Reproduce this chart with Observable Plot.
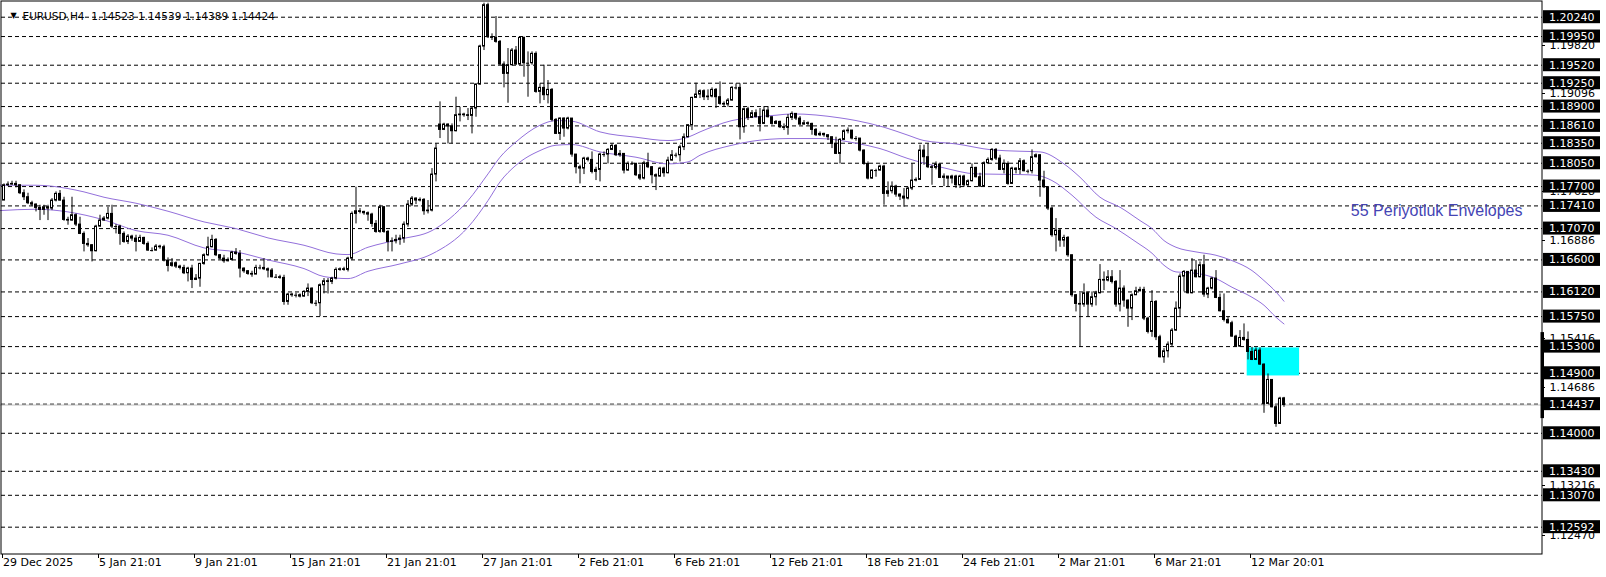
<!DOCTYPE html>
<html><head><meta charset="utf-8">
<script src="https://cdn.jsdelivr.net/npm/d3@7"></script>
<script src="https://cdn.jsdelivr.net/npm/@observablehq/plot@0.6"></script>
<style>html,body{margin:0;padding:0;background:#fff;overflow:hidden}#chart svg{display:block}</style>
</head><body><div id="chart"></div>
<script>
// ---- H4 candles (bar index 0 = 29 Dec 2025) ----
const closes = [
1.1772,1.1773,1.1774,1.1772,1.1760,1.1754,1.1745,1.1743,1.1738,1.1735,
1.1739,1.1737,1.1749,1.1759,1.1749,1.1720,1.1719,1.1727,1.1713,1.1699,
1.1684,1.1682,1.1673,1.1710,1.1719,1.1722,1.1729,1.1710,1.1710,1.1699,
1.1687,1.1695,1.1692,1.1687,1.1693,1.1684,1.1674,1.1674,1.1680,1.1679,
1.1659,1.1651,1.1655,1.1650,1.1648,1.1640,1.1647,1.1630,1.1632,1.1654,
1.1667,1.1679,1.1690,1.1667,1.1662,1.1658,1.1660,1.1671,1.1669,1.1647,
1.1643,1.1639,1.1638,1.1648,1.1648,1.1646,1.1644,1.1634,1.1634,1.1633,
1.1597,1.1608,1.1607,1.1607,1.1605,1.1612,1.1617,1.1595,1.1595,1.1622,
1.1628,1.1627,1.1632,1.1645,1.1646,1.1645,1.1662,1.1729,1.1733,1.1732,
1.1730,1.1728,1.1714,1.1702,1.1739,1.1702,1.1687,1.1688,1.1690,1.1692,
1.1713,1.1743,1.1752,1.1749,1.1750,1.1733,1.1734,1.1788,1.1827,1.1855,
1.1863,1.1860,1.1853,1.1877,1.1878,1.1877,1.1876,1.1887,1.1923,1.1980,
1.2042,1.1994,1.1993,1.1987,1.1953,1.1939,1.1952,1.1974,1.1953,1.1993,
1.1955,1.1955,1.1969,1.1912,1.1918,1.1907,1.1915,1.1870,1.1849,1.1872,
1.1857,1.1872,1.1818,1.1799,1.1797,1.1812,1.1810,1.1792,1.1795,1.1818,
1.1818,1.1825,1.1831,1.1817,1.1819,1.1794,1.1804,1.1804,1.1787,1.1782,
1.1805,1.1799,1.1787,1.1785,1.1797,1.1790,1.1809,1.1817,1.1817,1.1829,
1.1844,1.1862,1.1903,1.1908,1.1913,1.1904,1.1905,1.1915,1.1904,1.1894,
1.1893,1.1899,1.1918,1.1918,1.1859,1.1886,1.1873,1.1880,1.1874,1.1864,
1.1884,1.1874,1.1864,1.1867,1.1859,1.1858,1.1873,1.1879,1.1872,1.1863,
1.1865,1.1864,1.1855,1.1847,1.1849,1.1847,1.1844,1.1834,1.1819,1.1840,
1.1853,1.1854,1.1842,1.1842,1.1824,1.1804,1.1782,1.1794,1.1794,1.1800,
1.1759,1.1763,1.1770,1.1758,1.1755,1.1752,1.1767,1.1779,1.1780,1.1824,
1.1814,1.1799,1.1798,1.1803,1.1783,1.1785,1.1782,1.1785,1.1772,1.1785,
1.1772,1.1778,1.1798,1.1784,1.1770,1.1805,1.1810,1.1825,1.1812,1.1795,
1.1804,1.1774,1.1797,1.1795,1.1808,1.1793,1.1793,1.1814,1.1817,1.1779,
1.1769,1.1737,1.1697,1.1704,1.1689,1.1693,1.1667,1.1607,1.1594,1.1593,
1.1610,1.1593,1.1604,1.1610,1.1630,1.1629,1.1634,1.1627,1.1593,1.1617,
1.1599,1.1587,1.1607,1.1613,1.1615,1.1572,1.1552,1.1597,1.1544,1.1514,
1.1523,1.1533,1.1554,1.1587,1.1635,1.1642,1.1610,1.1644,1.1634,1.1652,
1.1608,1.1617,1.1632,1.1603,1.1583,1.1570,1.1565,1.1545,1.1530,1.1543,
1.1540,1.1522,1.1510,1.1524,1.1503,1.1444,1.1480,1.1439,1.1414,1.1452,
1.14424];
const highs = [
1.1774,1.1777,1.1778,1.1778,1.1770,1.1765,1.1760,1.1748,1.1744,1.1742,
1.1742,1.1742,1.1752,1.1762,1.1764,1.1754,1.1724,1.1754,1.1729,1.1724,
1.1702,1.1692,1.1683,1.1712,1.1727,1.1725,1.1739,1.1742,1.1713,1.1712,
1.1702,1.1698,1.1697,1.1697,1.1697,1.1694,1.1687,1.1678,1.1683,1.1682,
1.1682,1.1663,1.1662,1.1657,1.1652,1.1652,1.1649,1.1652,1.1638,1.1655,
1.1669,1.1694,1.1697,1.1692,1.1668,1.1667,1.1663,1.1673,1.1677,1.1674,
1.1648,1.1644,1.1643,1.1652,1.1652,1.1662,1.1648,1.1647,1.1638,1.1637,
1.1637,1.1610,1.1610,1.1610,1.1609,1.1614,1.1624,1.1618,1.1599,1.1624,
1.1632,1.1632,1.1634,1.1648,1.1648,1.1649,1.1664,1.1732,1.1769,1.1737,
1.1733,1.1732,1.1730,1.1719,1.1742,1.1740,1.1704,1.1693,1.1697,1.1697,
1.1717,1.1749,1.1755,1.1753,1.1753,1.1752,1.1749,1.1797,1.1834,1.1897,
1.1865,1.1864,1.1864,1.1904,1.1889,1.1880,1.1887,1.1889,1.1924,1.1982,
1.2045,1.2045,1.1999,1.2025,1.1989,1.1957,1.1977,1.1977,1.1980,1.1995,
1.1994,1.1972,1.1972,1.1972,1.1924,1.1952,1.1929,1.1917,1.1872,1.1873,
1.1873,1.1874,1.1867,1.1818,1.1802,1.1814,1.1814,1.1822,1.1799,1.1820,
1.1822,1.1827,1.1834,1.1833,1.1824,1.1819,1.1807,1.1807,1.1805,1.1802,
1.1808,1.1820,1.1800,1.1789,1.1799,1.1799,1.1814,1.1824,1.1820,1.1832,
1.1849,1.1863,1.1904,1.1925,1.1915,1.1915,1.1915,1.1918,1.1917,1.1927,
1.1897,1.1902,1.1920,1.1924,1.1924,1.1888,1.1889,1.1884,1.1885,1.1887,
1.1890,1.1890,1.1874,1.1869,1.1868,1.1864,1.1878,1.1882,1.1879,1.1875,
1.1869,1.1867,1.1865,1.1857,1.1852,1.1850,1.1847,1.1844,1.1844,1.1842,
1.1855,1.1858,1.1847,1.1845,1.1838,1.1825,1.1807,1.1795,1.1796,1.1802,
1.1802,1.1777,1.1777,1.1772,1.1759,1.1767,1.1769,1.1804,1.1783,1.1832,
1.1832,1.1834,1.1802,1.1807,1.1802,1.1789,1.1785,1.1787,1.1787,1.1787,
1.1787,1.1780,1.1804,1.1799,1.1790,1.1807,1.1813,1.1827,1.1827,1.1817,
1.1810,1.1807,1.1799,1.1798,1.1812,1.1810,1.1795,1.1825,1.1819,1.1817,
1.1793,1.1764,1.1739,1.1722,1.1707,1.1697,1.1695,1.1667,1.1608,1.1610,
1.1624,1.1612,1.1612,1.1613,1.1653,1.1642,1.1644,1.1644,1.1629,1.1644,
1.1621,1.1600,1.1609,1.1619,1.1619,1.1619,1.1574,1.1614,1.1599,1.1547,
1.1527,1.1537,1.1557,1.1597,1.1639,1.1644,1.1642,1.1662,1.1659,1.1657,
1.1667,1.1619,1.1634,1.1644,1.1609,1.1609,1.1574,1.1568,1.1547,1.1554,
1.1564,1.1552,1.1529,1.1528,1.1528,1.1504,1.1489,1.1480,1.1442,1.1454,
1.14539];
const lows = [
1.1749,1.1770,1.1772,1.1768,1.1758,1.1749,1.1743,1.1740,1.1732,1.1719,
1.1727,1.1719,1.1734,1.1747,1.1748,1.1718,1.1712,1.1718,1.1710,1.1698,
1.1672,1.1679,1.1657,1.1672,1.1709,1.1718,1.1720,1.1707,1.1699,1.1682,
1.1685,1.1683,1.1688,1.1672,1.1688,1.1682,1.1673,1.1672,1.1673,1.1676,
1.1657,1.1642,1.1649,1.1647,1.1645,1.1638,1.1627,1.1617,1.1629,1.1619,
1.1652,1.1665,1.1678,1.1665,1.1660,1.1655,1.1657,1.1658,1.1667,1.1633,
1.1640,1.1637,1.1634,1.1638,1.1645,1.1644,1.1633,1.1633,1.1632,1.1631,
1.1592,1.1592,1.1604,1.1603,1.1603,1.1604,1.1605,1.1593,1.1590,1.1575,
1.1609,1.1609,1.1623,1.1630,1.1643,1.1643,1.1642,1.1659,1.1714,1.1729,
1.1727,1.1718,1.1709,1.1700,1.1700,1.1700,1.1672,1.1672,1.1684,1.1682,
1.1685,1.1709,1.1740,1.1743,1.1747,1.1727,1.1729,1.1732,1.1777,1.1842,
1.1854,1.1834,1.1834,1.1852,1.1867,1.1874,1.1869,1.1849,1.1874,1.1922,
1.1974,1.1992,1.1989,1.1985,1.1952,1.1918,1.1895,1.1951,1.1952,1.1952,
1.1934,1.1904,1.1952,1.1910,1.1894,1.1899,1.1894,1.1867,1.1848,1.1839,
1.1844,1.1855,1.1814,1.1789,1.1774,1.1788,1.1807,1.1789,1.1779,1.1777,
1.1814,1.1804,1.1824,1.1815,1.1814,1.1789,1.1793,1.1802,1.1785,1.1779,
1.1780,1.1797,1.1774,1.1764,1.1784,1.1784,1.1789,1.1808,1.1813,1.1807,
1.1824,1.1843,1.1854,1.1902,1.1902,1.1899,1.1899,1.1903,1.1887,1.1892,
1.1889,1.1889,1.1898,1.1915,1.1840,1.1850,1.1869,1.1872,1.1873,1.1852,
1.1863,1.1873,1.1862,1.1863,1.1857,1.1854,1.1847,1.1869,1.1869,1.1862,
1.1862,1.1861,1.1847,1.1845,1.1845,1.1844,1.1839,1.1827,1.1818,1.1804,
1.1839,1.1849,1.1840,1.1838,1.1822,1.1802,1.1780,1.1781,1.1784,1.1793,
1.1742,1.1754,1.1759,1.1754,1.1749,1.1739,1.1750,1.1764,1.1777,1.1792,
1.1802,1.1797,1.1772,1.1795,1.1782,1.1770,1.1769,1.1774,1.1767,1.1767,
1.1769,1.1770,1.1777,1.1783,1.1769,1.1769,1.1803,1.1808,1.1809,1.1794,
1.1789,1.1772,1.1773,1.1789,1.1788,1.1792,1.1789,1.1789,1.1813,1.1754,
1.1767,1.1734,1.1694,1.1672,1.1679,1.1679,1.1664,1.1604,1.1582,1.1529,
1.1589,1.1574,1.1589,1.1591,1.1609,1.1614,1.1627,1.1624,1.1589,1.1582,
1.1589,1.1559,1.1569,1.1607,1.1612,1.1569,1.1549,1.1544,1.1539,1.1513,
1.1505,1.1513,1.1530,1.1553,1.1574,1.1612,1.1609,1.1609,1.1633,1.1633,
1.1604,1.1602,1.1615,1.1602,1.1582,1.1567,1.1564,1.1544,1.1529,1.1529,
1.1538,1.1510,1.1509,1.1509,1.1502,1.1430,1.1444,1.1438,1.1409,1.1414,
1.14389];
const firstOpen = 1.1749;
const gapOpens = [[109, 1.1863], [320, 1.14523]];

// ---- 55-period Envelopes (sampled along the drawn lines) ----
const upperK = [-1,8,16,20,25,33,41,50,58,66,75,83,86,91,99,107,116,121,124,128,134,138,142,149,158,166,171,174,182,187,193,197,209,213,220,226,230,238,247,254,259,265,269,274,279,284,287,290,293,298,303,307,312,315,318,320];
const upperV = [1.1772,1.1772,1.1767,1.1762,1.1754,1.1745,1.1733,1.1717,1.1707,1.1693,1.1682,1.1669,1.1668,1.1679,1.1691,1.1704,1.1749,1.1789,1.1814,1.1837,1.1862,1.1869,1.1868,1.1852,1.1844,1.1839,1.1844,1.1852,1.1869,1.1874,1.1877,1.1879,1.1873,1.1869,1.1859,1.1847,1.1839,1.1834,1.1825,1.1823,1.1822,1.1804,1.1784,1.1754,1.1739,1.1719,1.1707,1.1689,1.1679,1.1672,1.1667,1.1659,1.1644,1.1629,1.1612,1.1598];
const lowerK = [-1,8,16,25,33,41,50,58,66,75,80,86,91,99,107,116,121,124,128,134,138,142,149,158,166,171,174,182,187,196,204,213,219,226,235,243,254,258,262,267,273,278,283,287,290,293,298,303,307,312,315,318,320];
const lowerV = [1.1734,1.1736,1.1732,1.1720,1.1704,1.1697,1.1678,1.1672,1.1660,1.1647,1.1635,1.1632,1.1643,1.1654,1.1669,1.1709,1.1749,1.1777,1.1802,1.1824,1.1832,1.1833,1.1822,1.1814,1.1804,1.1807,1.1817,1.1832,1.1838,1.1842,1.1842,1.1835,1.1827,1.1812,1.1798,1.1789,1.1788,1.1787,1.1779,1.1757,1.1724,1.1707,1.1687,1.1670,1.1652,1.1642,1.1640,1.1632,1.1619,1.1604,1.1592,1.1574,1.1564];

// ---- horizontal levels, axis ticks, labels ----
const levels = [1.20240,1.19950,1.19520,1.19250,1.18900,1.18610,1.18350,1.18050,1.17700,1.17410,1.17070,1.16600,1.16120,1.15750,1.15300,1.14900,1.14437,1.14000,1.13430,1.13070,1.12592];
const priceTicks = [1.19820,1.19096,1.17628,1.16886,1.15416,1.14686,1.13216,1.12470];
const bid = 1.14424;
const timeIdx = [0,24,48,72,96,120,144,168,192,216,240,264,288,312];
const timeLabels = ["29 Dec 2025","5 Jan 21:01","9 Jan 21:01","15 Jan 21:01","21 Jan 21:01","27 Jan 21:01","2 Feb 21:01","6 Feb 21:01","12 Feb 21:01","18 Feb 21:01","24 Feb 21:01","2 Mar 21:01","6 Mar 21:01","12 Mar 20:01"];
const zoneK = [310.8, 323.9];
const zoneP = [1.1528, 1.1486];
const axisMarker = [1.1551, 1.1422];
const title = "EURUSD,H4\u00a0 1.14523 1.14539 1.14389 1.14424";
const envLabel = "55 Periyotluk Envelopes";
const envLabelLevel = 1.17410;

// ---- build tables ----
const opens = closes.map((c, i) => i === 0 ? firstOpen : closes[i - 1]);
for (const [i, v] of gapOpens) opens[i] = v;
const bars = closes.map((c, i) => ({
  i, o: opens[i], c,
  h: Math.max(highs[i], opens[i], c),
  l: Math.min(lows[i], opens[i], c)
}));
const bodies = bars.filter(b => Math.abs(b.o - b.c) >= 0.00008);
const dojis = bars.filter(b => Math.abs(b.o - b.c) < 0.00008);
const upper = upperK.map((k, j) => ({k, v: upperV[j]}));
const lower = lowerK.map((k, j) => ({k, v: lowerV[j]}));
const times = timeIdx.map((k, j) => ({k, t: timeLabels[j]}));

const FONT = "DejaVu Sans";
const chart = Plot.plot({
  width: 1606, height: 577,
  marginLeft: 0, marginTop: 0, marginRight: 64, marginBottom: 23,
  x: {type: "linear", domain: [-0.875, 384.625], axis: null},
  y: {type: "linear", domain: [1.121822, 1.204905], axis: null},
  style: {background: "white", fontFamily: FONT, fontSize: "11px", overflow: "visible"},
  marks: [
    Plot.ruleY(levels, {y: d => d, stroke: "black", strokeWidth: 1, strokeDasharray: "4,3", insetLeft: 1}),
    Plot.ruleY([bid], {y: d => d, stroke: "#c0c0c0", strokeWidth: 1}),
    Plot.rect([0], {x1: () => zoneK[0], x2: () => zoneK[1], y1: () => zoneP[0], y2: () => zoneP[1], fill: "#00ffff"}),
    Plot.line(upper, {x: "k", y: "v", stroke: "#9370db", strokeWidth: 1, curve: "monotone-x"}),
    Plot.line(lower, {x: "k", y: "v", stroke: "#9370db", strokeWidth: 1, curve: "monotone-x"}),
    Plot.ruleX(bars, {x: "i", y1: "l", y2: "h", stroke: "black", strokeWidth: 1}),
    Plot.rect(bodies, {x1: d => d.i - 0.25, x2: d => d.i + 0.25, y1: "o", y2: "c",
      fill: d => d.c > d.o ? "white" : "black", stroke: "black", strokeWidth: 1}),
    Plot.ruleY(dojis, {y: "c", x1: d => d.i - 0.375, x2: d => d.i + 0.375, stroke: "black", strokeWidth: 1}),
    Plot.text([envLabel], {text: d => d, y: () => envLabelLevel, frameAnchor: "right", dx: -20, dy: 5,
      textAnchor: "end", fill: "#4444b4", fontSize: 16, fontFamily: "Liberation Sans"}),
    Plot.text(["\u25BC"], {text: d => d, frameAnchor: "top-left", dx: 10, dy: 11.5, fontSize: 8, fill: "black"}),
    Plot.text([title], {text: d => d, frameAnchor: "top-left", dx: 22, dy: 12.5, textAnchor: "start",
      fontSize: 10.5, fill: "black", fontFamily: FONT}),
    Plot.text(priceTicks, {text: d => d.toFixed(5), y: d => d, frameAnchor: "right", dx: 7,
      textAnchor: "start", fontSize: 11, fill: "black", fontFamily: FONT}),
    Plot.text(times, {x: "k", text: "t", frameAnchor: "bottom", dx: -1, dy: 11, textAnchor: "start",
      fontSize: 11, fill: "black", fontFamily: FONT}),
    Plot.frame({stroke: "black", strokeWidth: 1, inset: 0.5})
  ]
});
document.getElementById("chart").append(chart);

// ---- price-axis decorations drawn with the plot's own scales ----
const sx = chart.scale("x"), sy = chart.scale("y");
const frameRight = Math.max(...sx.range);
const frameBottom = Math.max(...sy.range);
const svg = d3.select(chart);
const g = svg.append("g").attr("font-family", FONT).attr("font-size", 11).attr("text-anchor", "start");
priceTicks.forEach(p => {
  const y = Math.round(sy.apply(p)) + 0.5;
  g.append("line").attr("x1", frameRight).attr("x2", frameRight + 3).attr("y1", y).attr("y2", y).attr("stroke", "black");
});
timeIdx.forEach(k => {
  const x = Math.round(sx.apply(k)) - 1.5;
  g.append("line").attr("x1", x).attr("x2", x).attr("y1", frameBottom).attr("y2", frameBottom + 4).attr("stroke", "black");
});
const m0 = sy.apply(axisMarker[0]), m1 = sy.apply(axisMarker[1]);
g.append("rect").attr("x", frameRight - 1.5).attr("width", 3.5)
  .attr("y", Math.min(m0, m1)).attr("height", Math.abs(m1 - m0)).attr("fill", "black");
levels.forEach(p => {
  const y = sy.apply(p);
  g.append("rect").attr("x", frameRight + 1).attr("y", y - 6.5).attr("width", 57).attr("height", 13).attr("fill", "black");
  g.append("text").attr("x", frameRight + 7).attr("y", y).attr("dy", "0.36em").attr("fill", "white")
    .attr("text-anchor", "start").text(p.toFixed(5));
});
</script>
</body></html>
